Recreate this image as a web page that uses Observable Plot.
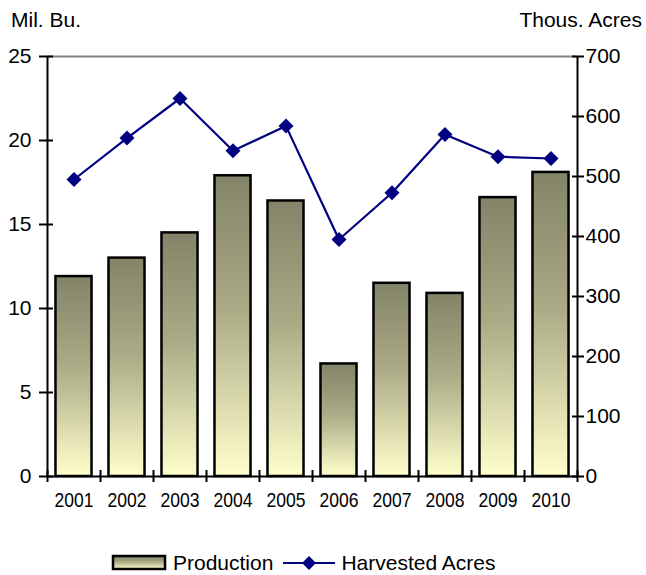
<!DOCTYPE html>
<html>
<head>
<meta charset="utf-8">
<script src="https://cdn.jsdelivr.net/npm/d3@7"></script>
<script src="https://cdn.jsdelivr.net/npm/@observablehq/plot@0.6"></script>
<style>
  html, body { margin: 0; padding: 0; background: #fff; }
  body { position: relative; width: 646px; height: 575px; font-family: "Liberation Sans", Arial, sans-serif; color: #000; }
  #head { position: relative; height: 40px; font-size: 21px; }
  #head .l { position: absolute; left: 11px; top: 8px; }
  #head .r { position: absolute; right: 4px; top: 8px; }
  #legend { position: absolute; left: 111px; top: 551px; display: flex; align-items: center; font-size: 21px; gap: 6px; }
  #legend svg { display: block; }
</style>
</head>
<body>
<div id="head"><span class="l">Mil. Bu.</span><span class="r">Thous. Acres</span></div>
<div id="chart"></div>
<div id="legend"></div>
<script>
// ---- data ----
const years = [2001, 2002, 2003, 2004, 2005, 2006, 2007, 2008, 2009, 2010];
const production = [11.9, 13.0, 14.5, 17.9, 16.4, 6.7, 11.5, 10.9, 16.6, 18.1]; // Mil. Bu.
const harvestedAcres = [495, 564, 630, 543, 584, 395, 473, 570, 533, 530]; // Thous. Acres
const leftTicks = [0, 5, 10, 15, 20, 25];
const rightTicks = [0, 100, 200, 300, 400, 500, 600, 700];
const seriesNames = ["Production", "Harvested Acres"];

const leftMax = 25, rightMax = 700;
const k = leftMax / rightMax;
const rows = years.map((y, i) => ({year: y, prod: production[i], acres: harvestedAcres[i]}));
const edges = [...years.map(y => y - 0.5), years[years.length - 1] + 0.5];
const half = 0.34;

const chart = Plot.plot({
  width: 646,
  height: 480,
  marginTop: 16,
  marginBottom: 44,
  marginLeft: 47,
  marginRight: 69,
  style: {fontFamily: "'Liberation Sans', Arial, sans-serif", fontSize: "20px", color: "#000", background: "#fff"},
  x: {type: "linear", domain: [edges[0], edges[edges.length - 1]], axis: null},
  y: {domain: [0, leftMax], axis: null},
  marks: [
    Plot.ruleY([leftMax], {stroke: "#808080", strokeWidth: 2}),
    Plot.rectY(rows, {x1: d => d.year - half, x2: d => d.year + half, y1: 0, y2: "prod", fill: "url(#barGrad)", stroke: "#000", strokeWidth: 2.5}),
    Plot.ruleX([edges[0]], {stroke: "#000", strokeWidth: 2}),
    Plot.ruleX([edges[edges.length - 1]], {stroke: "#000", strokeWidth: 2}),
    Plot.ruleY([0], {stroke: "#000", strokeWidth: 2}),
    // left axis
    Plot.axisY({ticks: leftTicks, tickSize: 14, dx: 6, tickFormat: () => "", strokeWidth: 2, label: null}),
    Plot.axisY({ticks: leftTicks, tickSize: 0, tickPadding: 16, tickFormat: d => String(d), fontSize: 21, label: null}),
    // right axis
    Plot.axisY({anchor: "right", ticks: rightTicks.map(v => v * k), tickSize: 12, dx: -6, tickFormat: () => "", strokeWidth: 2, label: null}),
    Plot.axisY({anchor: "right", ticks: rightTicks.map(v => v * k), tickSize: 0, tickPadding: 8, tickFormat: v => String(Math.round(v / k)), fontSize: 21, label: null}),
    // x axis
    Plot.axisX({ticks: edges, tickSize: 12, dy: -6, tickFormat: () => "", strokeWidth: 2, label: null}),
    Plot.axisX({ticks: years, tickSize: 0, tickPadding: 16, tickFormat: d => String(d), fontSize: 21, label: null}),
    // line
    Plot.line(rows, {x: "year", y: d => d.acres * k, stroke: "#000080", strokeWidth: 2.2}),
    Plot.dot(rows, {x: "year", y: d => d.acres * k, symbol: "square", r: 6, rotate: 45, fill: "#000080", stroke: "none"})
  ]
});

const gradDefs = `
  <linearGradient id="barGrad" x1="0" y1="0" x2="0" y2="1">
    <stop offset="0" stop-color="#838368"/>
    <stop offset="0.45" stop-color="#abab87"/>
    <stop offset="1" stop-color="#ffffcc"/>
  </linearGradient>`;
d3.select(chart).insert("defs", ":first-child").html(gradDefs);
// condensed year labels
d3.select(chart).selectAll("g[aria-label='x-axis tick label'] text")
  .attr("textLength", 39).attr("lengthAdjust", "spacingAndGlyphs");
document.getElementById("chart").appendChild(chart);

// legend
const legend = d3.select("#legend");
const sw = legend.append("svg").attr("width", 56).attr("height", 18);
sw.append("defs").html(gradDefs.replace('id="barGrad"', 'id="legGrad"'));
sw.append("rect").attr("x", 2).attr("y", 2).attr("width", 52).attr("height", 13).attr("fill", "url(#legGrad)").attr("stroke", "#000").attr("stroke-width", 2.5);
legend.append("span").text(seriesNames[0]).style("margin-right", "4px");
const ls = legend.append("svg").attr("width", 52).attr("height", 18);
ls.append("line").attr("x1", 0).attr("x2", 52).attr("y1", 9).attr("y2", 9).attr("stroke", "#000080").attr("stroke-width", 2.2);
ls.append("path").attr("d", "M26,2L33,9L26,16L19,9Z").attr("fill", "#000080");
legend.append("span").text(seriesNames[1]);
</script>
</body>
</html>
